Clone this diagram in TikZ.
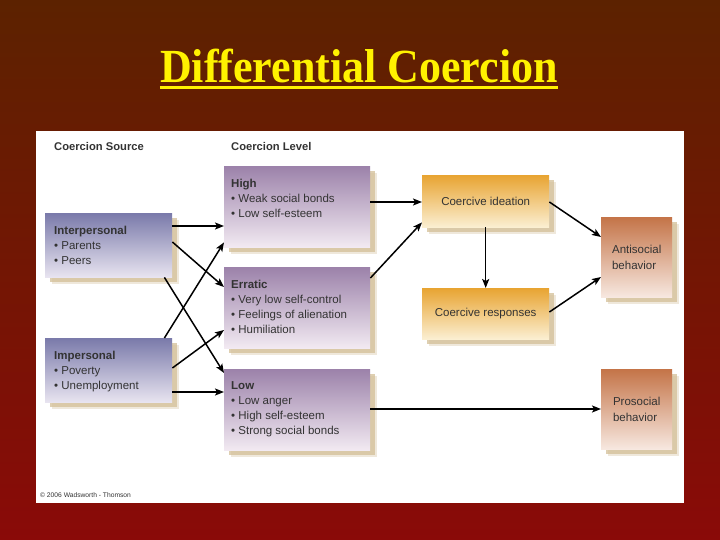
\documentclass[tikz,border=0pt]{standalone}
\usepackage{fontspec}
\setmainfont{Liberation Sans}
\newfontfamily\titlefont{Liberation Serif}
\usetikzlibrary{calc,shadows,arrows.meta}
\definecolor{bgtop}{HTML}{5C2200}
\definecolor{bgbot}{HTML}{8A0A08}
\definecolor{srctop}{HTML}{7A7AAA}
\definecolor{srcbot}{HTML}{E8E4F0}
\definecolor{lvltop}{HTML}{9C82AA}
\definecolor{lvlbot}{HTML}{F2EAF2}
\definecolor{orgtop}{HTML}{E8A432}
\definecolor{orgbot}{HTML}{FBEFD2}
\definecolor{outtop}{HTML}{C47448}
\definecolor{outbot}{HTML}{F7E8E0}
\definecolor{shadowc}{HTML}{D4BF98}
\definecolor{textc}{HTML}{333333}
\tikzset{
  box/.style={rectangle, inner sep=0pt, anchor=north west,
    drop shadow={shadow xshift=7pt, shadow yshift=-7pt, fill=shadowc, opacity=0.35},
    drop shadow={shadow xshift=5pt, shadow yshift=-5pt, fill=shadowc, opacity=0.75}},
  srcbox/.style={box, top color=srctop, bottom color=srcbot, minimum width=127pt, minimum height=64pt},
  lvlbox/.style={box, top color=lvltop, bottom color=lvlbot, minimum width=146pt, minimum height=81pt},
  orgbox/.style={box, top color=orgtop, bottom color=orgbot, minimum width=127pt, minimum height=52pt,
    text=textc, font=\fontsize{11.5}{15}\selectfont},
  outbox/.style={box, top color=outtop, bottom color=outbot, minimum width=71pt, minimum height=80pt,
    text=textc, align=left, font=\fontsize{11.5}{16}\selectfont},
  lbl/.style={anchor=north west, inner sep=0pt, align=left, text=textc, font=\fontsize{11.5}{15}\selectfont},
  hdr/.style={anchor=west, inner sep=0pt, text=textc, font=\bfseries\fontsize{11.2}{13}\selectfont},
  arr/.style={-{Stealth[length=9pt,width=7pt,inset=2pt]}, line width=1.5pt, black},
}
\begin{document}
\begin{tikzpicture}[x=1pt,y=-1pt]
\useasboundingbox (0,0) rectangle (720,540);
\shade[top color=bgtop, bottom color=bgbot] (0,0) rectangle (720,540);
\fill[white] (36,131) rectangle (684,503);
% title
\node[font=\titlefont\bfseries\fontsize{44}{50}\selectfont, text=yellow, inner sep=0pt, anchor=base, yscale=1.08] (title) at (359,83) {Differential Coercion};
\draw[yellow, line width=2.5pt] ([yshift=-4.5pt]title.base west) -- ([yshift=-4.5pt]title.base east);
% headers
\node[hdr] (hsrc) at (54,146) {Coercion Source};
\node[hdr] (hlvl) at (231,146) {Coercion Level};
% boxes
\node[srcbox] (inter) at (45,213) {};
\node[srcbox] (imper) at (45,338) {};
\node[lvlbox] (high) at (224,166) {};
\node[lvlbox] (erratic) at (224,267) {};
\node[lvlbox] (low) at (224,369) {};
\node[orgbox] (idea) at (422,175) {Coercive ideation};
\node[orgbox, minimum height=51pt] (resp) at (422,288) {Coercive responses};
\node[outbox] (anti) at (601,217) {Antisocial\\behavior};
\node[outbox] (pro) at (601,369) {Prosocial\\behavior};
% labels
\node[lbl] (intert) at ($(inter.north west)+(9,13)$) {\textbf{Interpersonal}\\• Parents\\• Peers};
\node[lbl] (impert) at ($(imper.north west)+(9,13)$) {\textbf{Impersonal}\\• Poverty\\• Unemployment};
\node[lbl] (hight) at ($(high.north west)+(7,13)$) {\textbf{High}\\• Weak social bonds\\• Low self-esteem};
\node[lbl] (errt) at ($(erratic.north west)+(7,13)$) {\textbf{Erratic}\\• Very low self-control\\• Feelings of alienation\\• Humiliation};
\node[lbl] (lowt) at ($(low.north west)+(7,12)$) {\textbf{Low}\\• Low anger\\• High self-esteem\\• Strong social bonds};
\node[anchor=west, inner sep=0pt, text=textc, font=\fontsize{6.7}{8}\selectfont] (copy) at (40,495) {© 2006 Wadsworth - Thomson};
% arrows
\coordinate (a1) at ($(inter.north east)+(0,13)$);
\draw[arr] (a1) -- (a1 -| high.west);
\draw[arr] ($(inter.north east)+(0,29)$) -- ($(erratic.north west)+(0,20)$);
\draw[arr] ($(inter.south east)+(-8,0)$) -- ($(low.north west)+(0,4)$);
\draw[arr] ($(imper.north east)+(-8,0)$) -- ($(high.south west)+(0,-5)$);
\draw[arr] ($(imper.north east)+(0,30)$) -- ($(erratic.north west)+(0,63)$);
\coordinate (a6) at ($(imper.north east)+(0,54)$);
\draw[arr] (a6) -- (a6 -| low.west);
\coordinate (a7) at ($(high.north east)+(0,36)$);
\draw[arr] (a7) -- (a7 -| idea.west);
\draw[arr] ($(erratic.north east)+(0,11)$) -- ($(idea.south west)+(0,-5)$);
\draw[arr] (idea.south) -- (resp.north);
\draw[arr] ($(idea.north east)+(0,27)$) -- ($(anti.north west)+(0,20)$);
\draw[arr] ($(resp.north east)+(0,24)$) -- ($(anti.north west)+(0,60)$);
\coordinate (a12) at ($(low.north east)+(0,40)$);
\draw[arr] (a12) -- (a12 -| pro.west);
\end{tikzpicture}
\end{document}
